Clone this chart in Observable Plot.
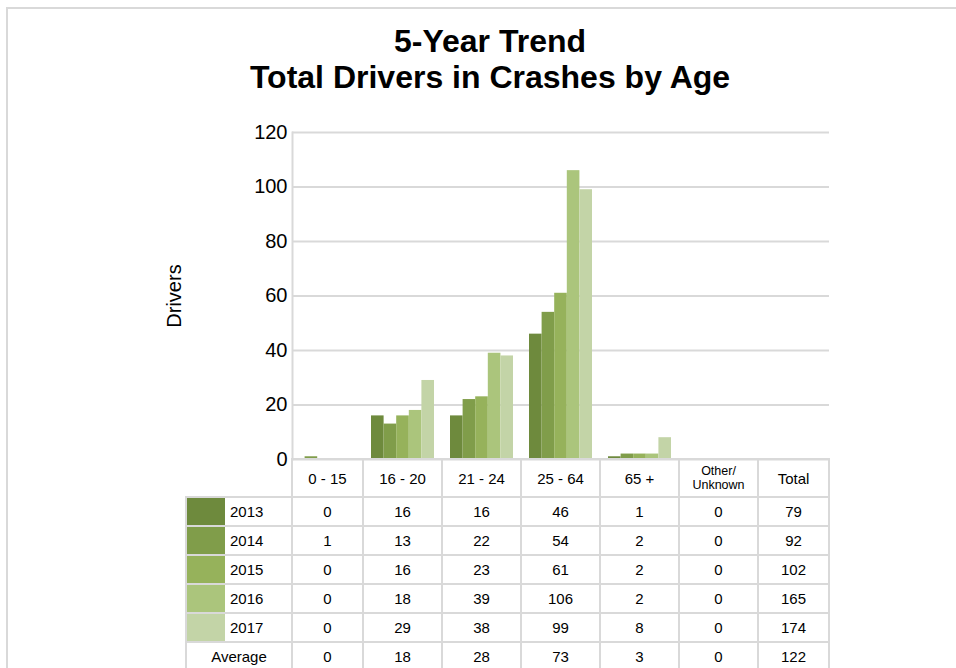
<!DOCTYPE html>
<html><head><meta charset="utf-8">
<script src="https://cdn.jsdelivr.net/npm/d3@7"></script>
<script src="https://cdn.jsdelivr.net/npm/@observablehq/plot@0.6"></script>
<style>
html,body{margin:0;padding:0;background:#fff;overflow:hidden}
body{width:956px;height:668px;position:relative;font-family:"Liberation Sans",Arial,sans-serif;color:#000}
#frame{position:absolute;left:6px;top:7px;width:980px;height:700px;border-top:2px solid #d9d9d9;border-left:2px solid #d9d9d9}
#title{position:absolute;left:190px;width:600px;top:23px;text-align:center;font-weight:bold;font-size:32px;line-height:36px}
#chart{position:absolute;left:0;top:110px}
#tbl{position:absolute;left:185px;top:458px;border-collapse:collapse;table-layout:fixed;width:643px;font-size:15px}
#tbl td{border:2px solid #d9d9d9;text-align:center;padding:0;white-space:nowrap;overflow:hidden}
#tbl tr.hd{height:38px}
#tbl tr.rw{height:29px}
#tbl td.corner{border-top:none;border-left:none}
#tbl td.small{font-size:12.5px;line-height:14px}
#tbl td.lab{text-align:left}
.labin{display:flex;align-items:center;height:27px}
.sw{width:38px;height:27px}
.labin span{margin-left:5px}
</style></head>
<body>
<div id="frame"></div>
<div id="title">5-Year Trend<br>Total Drivers in Crashes by Age</div>
<div id="chart"></div>
<table id="tbl"></table>
<script>
const categories = ["0 - 15","16 - 20","21 - 24","25 - 64","65 +","Other/Unknown","Total"];
const years = ["2013","2014","2015","2016","2017"];
const v2013 = [0,16,16,46,1,0];
const v2014 = [1,13,22,54,2,0];
const v2015 = [0,16,23,61,2,0];
const v2016 = [0,18,39,106,2,0];
const v2017 = [0,29,38,99,8,0];
const totals = [79,92,102,165,174];
const averages = [0,18,28,73,3,0,122];
const colors = ["#6e8a3d","#809d4a","#96b25b","#abc57c","#c3d4a7"];
const yTicks = [0,20,40,60,80,100,120];
const yLabel = "Drivers";
const avgLabel = "Average";

const series = [v2013,v2014,v2015,v2016,v2017];
const rows = years.flatMap((yr,k)=>series[k].map((v,i)=>({year:yr,cat:categories[i],value:v})));

const left = 292, right = 829, pad = 16/79;
const bw = (right-left)/(categories.length - pad)*(1-pad);
const sub = bw/years.length;

const chart = Plot.plot({
  width:956, height:351,
  marginLeft:left, marginRight:956-right, marginTop:22, marginBottom:2,
  style:{fontFamily:"Liberation Sans, Arial, sans-serif", fontSize:"20px", color:"#000", background:"transparent", overflow:"visible"},
  x:{domain:categories, paddingInner:pad, paddingOuter:0, axis:null},
  y:{domain:[0,120]},
  marks:[
    Plot.ruleY(yTicks,{stroke:"#d9d9d9", strokeWidth:2}),
    ...years.map((yr,k)=>Plot.barY(rows.filter(d=>d.year===yr),{x:"cat",y:"value",fill:colors[k],insetLeft:k*sub,insetRight:(years.length-1-k)*sub})),
    Plot.axisY({ticks:yTicks,tickSize:0,tickPadding:5,fontSize:20,label:null}),
    Plot.frame({anchor:"left",stroke:"#d9d9d9",strokeWidth:2}),
    Plot.text([yLabel],{frameAnchor:"left",textAnchor:"middle",lineAnchor:"middle",rotate:-90,dx:-118,fontSize:20})
  ]
});
document.getElementById("chart").appendChild(chart);

// data table
const tbl = document.getElementById("tbl");
const widths = [106,71,79,79,79,79,79,71];
let html = "<colgroup>" + widths.map(w=>`<col style="width:${w}px">`).join("") + "</colgroup>";
html += `<tr class="hd"><td class="corner"></td>` + categories.map(c=>{
  if (c.includes("/")) { const p = c.split("/"); return `<td class="small">${p[0]}/<br>${p[1]}</td>`; }
  return `<td>${c}</td>`;
}).join("") + "</tr>";
years.forEach((yr,k)=>{
  html += `<tr class="rw"><td class="lab"><div class="labin"><div class="sw" style="background:${colors[k]}"></div><span>${yr}</span></div></td>` +
    series[k].map(v=>`<td>${v}</td>`).join("") + `<td>${totals[k]}</td></tr>`;
});
html += `<tr class="rw"><td>${avgLabel}</td>` + averages.map(v=>`<td>${v}</td>`).join("") + "</tr>";
tbl.innerHTML = html;
</script>
</body></html>
